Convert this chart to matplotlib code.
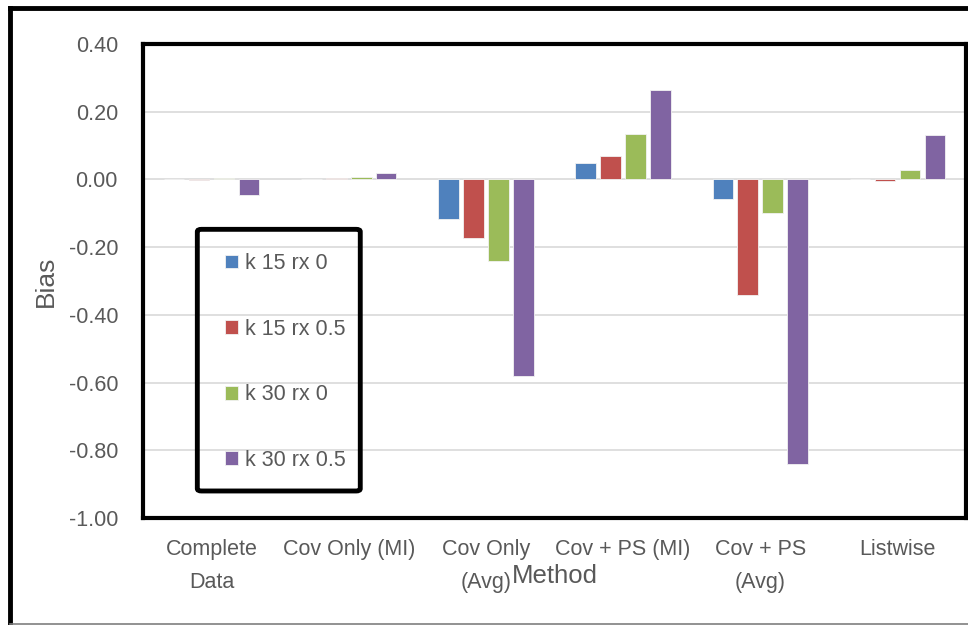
import matplotlib.pyplot as plt
import numpy as np
from matplotlib.lines import Line2D
from matplotlib.patches import FancyBboxPatch

plt.rcParams['font.family'] = ['Liberation Sans', 'DejaVu Sans']

# metodos e vies medio por cenario
metodos = ['Complete\nData', 'Cov Only (MI)', 'Cov Only\n(Avg)', 'Cov + PS (MI)', 'Cov + PS\n(Avg)', 'Listwise']
series = ['k 15 rx 0', 'k 15 rx 0.5', 'k 30 rx 0', 'k 30 rx 0.5']
k15_rx0 = [0.001, 0.002, -0.118, 0.050, -0.059, 0.001]
k15_rx05 = [-0.003, 0.004, -0.172, 0.068, -0.340, -0.005]
k30_rx0 = [0.005, 0.008, -0.240, 0.133, -0.098, 0.027]
k30_rx05 = [-0.045, 0.018, -0.580, 0.263, -0.840, 0.130]
marcas_y = [-1.0, -0.8, -0.6, -0.4, -0.2, 0.0, 0.2, 0.4]
cores = ['#4F81BD', '#C0504D', '#9BBB59', '#8064A2']

fig = plt.figure(figsize=(9.68, 6.25), dpi=100)
ax = fig.add_axes([143 / 968, 1 - 518 / 625, 823 / 968, 474 / 625])

x = np.arange(len(metodos))
largura = 0.15
passo = 0.182
for i, (valores, cor, nome) in enumerate(zip([k15_rx0, k15_rx05, k30_rx0, k30_rx05], cores, series)):
    ax.bar(x + (i - 1.5) * passo, valores, width=largura, color=cor, label=nome,
           edgecolor='#F2F2F2', linewidth=0.6, zorder=3)

ax.set_xlim(-0.5, len(metodos) - 0.5)
ax.set_ylim(-1.0, 0.4)
ax.set_yticks(marcas_y)
ax.set_yticklabels([f'{v:.2f}' for v in marcas_y])
ax.set_xticks(x)
ax.set_xticklabels(metodos, linespacing=1.75)
ax.tick_params(axis='y', length=0, pad=18, labelsize=15.5, labelcolor='#595959')
ax.tick_params(axis='x', length=0, pad=15, labelsize=15.5, labelcolor='#595959')
ax.grid(axis='y', color='#D9D9D9', linewidth=1.2, zorder=0)
ax.set_axisbelow(True)

for lado in ax.spines.values():
    lado.set_linewidth(3)
    lado.set_color('black')

ax.set_ylabel('Bias', fontsize=19, color='#595959', labelpad=8)
ax.set_xlabel('Method', fontsize=18.5, color='#595959')
ax.xaxis.set_label_coords(0.5, -0.098)

# legenda sem moldura + caixa grossa por fora
ax.legend(loc='center left', bbox_to_anchor=(0.0996, 0.329), frameon=False,
          fontsize=15.5, labelcolor='#595959', borderpad=0, borderaxespad=0,
          handlelength=0.6, handleheight=0.6, handletextpad=0.35, labelspacing=2.07)
caixa = FancyBboxPatch((0.066, 0.057), 0.198, 0.552, boxstyle='round,pad=0,rounding_size=0.005',
                       transform=ax.transAxes, facecolor='none', edgecolor='black',
                       linewidth=3.5, zorder=5)
ax.add_patch(caixa)

# moldura externa da figura
fig.add_artist(Line2D([9.5 / 968, 1], [1 - 8 / 625, 1 - 8 / 625], color='black', linewidth=3.5))
fig.add_artist(Line2D([9.5 / 968, 9.5 / 968], [1 - 8 / 625, 0], color='black', linewidth=3.5))
fig.add_artist(Line2D([9.5 / 968, 1], [1 / 625, 1 / 625], color='#7F7F7F', linewidth=1.2))

fig.savefig('out.png', dpi=100)
